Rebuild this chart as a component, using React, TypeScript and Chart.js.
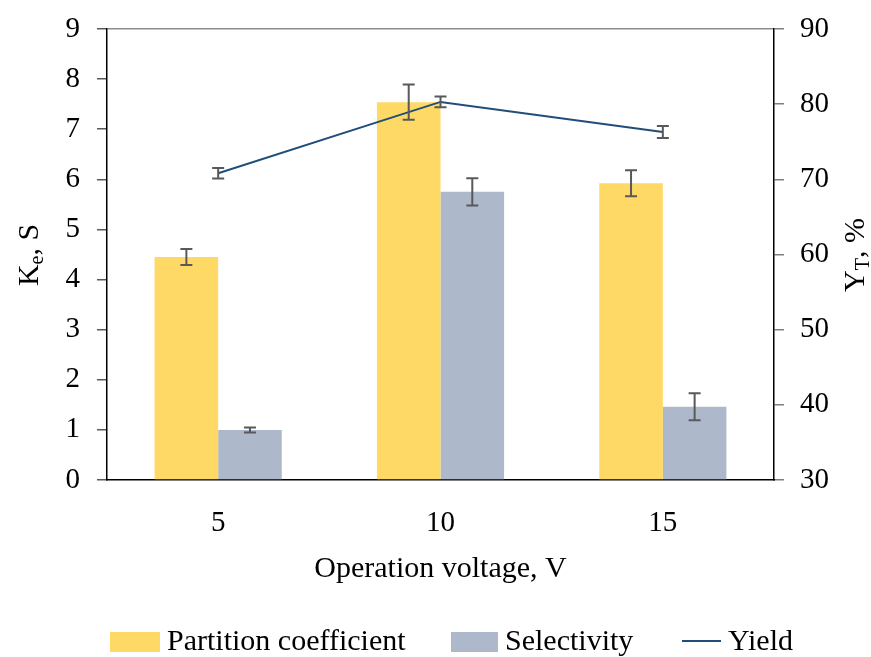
import React, { useEffect, useRef } from "react";
import { Chart, registerables } from "chart.js";

Chart.register(...registerables);

const categories = ["5", "10", "15"];
const partition = [4.45, 7.54, 5.92];
const partitionErr = [0.16, 0.35, 0.26];
const selectivity = [1.0, 5.75, 1.46];
const selectivityErr = [0.05, 0.27, 0.27];
const yieldVals = [70.8, 80.3, 76.3];
const yieldErr = [0.7, 0.72, 0.8];

const legendLabels = ["Partition coefficient", "Selectivity", "Yield"];

const FONT = "'Liberation Serif', 'Times New Roman', serif";
const YELLOW = "#FFD966";
const GREY = "#ADB9CA";
const NAVY = "#1F4E79";
const ERR = "#595959";

const errorBarPlugin = {
  id: "errorBars",
  afterDatasetsDraw(chart: any) {
    const ctx = chart.ctx;
    chart.data.datasets.forEach((ds: any, di: number) => {
      if (!ds.errors) return;
      const meta = chart.getDatasetMeta(di);
      const scale = chart.scales[ds.yAxisID];
      meta.data.forEach((el: any, i: number) => {
        const v = ds.data[i];
        const e = ds.errors[i];
        const x = el.x;
        const yTop = scale.getPixelForValue(v + e);
        const yBot = scale.getPixelForValue(v - e);
        ctx.save();
        ctx.strokeStyle = ERR;
        ctx.lineWidth = 2;
        ctx.beginPath();
        ctx.moveTo(x, yTop);
        ctx.lineTo(x, yBot);
        ctx.moveTo(x - 6, yTop);
        ctx.lineTo(x + 6, yTop);
        ctx.moveTo(x - 6, yBot);
        ctx.lineTo(x + 6, yBot);
        ctx.stroke();
        ctx.restore();
      });
    });
  },
};

function drawSubTitle(ctx: any, cx: number, cy: number, main: string, sub: string, rest: string) {
  ctx.save();
  ctx.translate(cx, cy);
  ctx.rotate(-Math.PI / 2);
  ctx.fillStyle = "#000";
  ctx.textBaseline = "middle";
  ctx.textAlign = "left";
  const big = `30px ${FONT}`;
  const small = `20px ${FONT}`;
  ctx.font = big;
  const w1 = ctx.measureText(main).width;
  const w3 = ctx.measureText(rest).width;
  ctx.font = small;
  const w2 = ctx.measureText(sub).width;
  let x = -(w1 + w2 + w3) / 2;
  ctx.font = big;
  ctx.fillText(main, x, 0);
  x += w1;
  ctx.font = small;
  ctx.fillText(sub, x, 8);
  x += w2;
  ctx.font = big;
  ctx.fillText(rest, x, 0);
  ctx.restore();
}

const titlesPlugin = {
  id: "titles",
  afterDraw(chart: any) {
    const ctx = chart.ctx;
    drawSubTitle(ctx, 30, 255, "K", "e", ", S");
    drawSubTitle(ctx, 856, 255, "Y", "T", ", %");
  },
};

const legendPlugin = {
  id: "customLegend",
  afterDraw(chart: any) {
    const ctx = chart.ctx;
    const y = 642;
    ctx.save();
    ctx.font = `30px ${FONT}`;
    ctx.fillStyle = "#000";
    ctx.textBaseline = "middle";
    ctx.textAlign = "left";
    ctx.fillStyle = YELLOW;
    ctx.fillRect(110, 632, 50, 20);
    ctx.fillStyle = "#000";
    ctx.fillText(legendLabels[0], 167, y);
    ctx.fillStyle = GREY;
    ctx.fillRect(451, 632, 47, 20);
    ctx.fillStyle = "#000";
    ctx.fillText(legendLabels[1], 505, y);
    ctx.strokeStyle = NAVY;
    ctx.lineWidth = 2;
    ctx.beginPath();
    ctx.moveTo(682, 641);
    ctx.lineTo(721, 641);
    ctx.stroke();
    ctx.fillText(legendLabels[2], 728, y);
    ctx.restore();
  },
};

export default function App() {
  const ref = useRef<HTMLCanvasElement | null>(null);
  useEffect(() => {
    if (!ref.current) return;
    const chart = new Chart(ref.current, {
      type: "bar",
      data: {
        labels: categories,
        datasets: [
          {
            type: "line",
            label: legendLabels[2],
            data: yieldVals,
            errors: yieldErr,
            yAxisID: "y1",
            borderColor: NAVY,
            borderWidth: 2,
            pointRadius: 0,
            tension: 0,
            order: 0,
          } as any,
          {
            type: "bar",
            label: legendLabels[0],
            data: partition,
            errors: partitionErr,
            yAxisID: "y",
            backgroundColor: YELLOW,
            borderWidth: 0,
            order: 1,
          } as any,
          {
            type: "bar",
            label: legendLabels[1],
            data: selectivity,
            errors: selectivityErr,
            yAxisID: "y",
            backgroundColor: GREY,
            borderWidth: 0,
            order: 1,
          } as any,
        ],
      },
      options: {
        animation: false,
        responsive: false,
        maintainAspectRatio: false,
        datasets: { bar: { categoryPercentage: 0.572, barPercentage: 1.0 } },
        layout: { padding: { top: 29, left: 0, right: 0, bottom: 40 } },
        plugins: {
          legend: { display: false },
          tooltip: { enabled: false },
        },
        scales: {
          x: {
            grid: { display: false },
            border: { display: true, color: "#000", width: 1.5 },
            ticks: { color: "#000", font: { family: FONT, size: 29 }, padding: 18 },
            title: {
              display: true,
              text: "Operation voltage, V",
              color: "#000",
              font: { family: FONT, size: 30 },
              padding: { top: 0, bottom: 30 },
            },
            afterFit: (s: any) => {
              s.height = 137;
              s.paddingLeft = 0;
              s.paddingRight = 0;
            },
          },
          y: {
            position: "left",
            min: 0,
            max: 9,
            ticks: { stepSize: 1, color: "#000", font: { family: FONT, size: 29 }, padding: 17 },
            grid: {
              drawOnChartArea: true,
              color: (c: any) => (c.tick && c.tick.value === 9 ? "#8c8c8c" : "rgba(0,0,0,0)"),
              tickColor: "#595959",
              tickLength: 10,
              lineWidth: 1.5,
            },
            border: { display: true, color: "#000", width: 1.5 },
            afterFit: (s: any) => {
              s.width = 107;
              s.paddingTop = 0;
              s.paddingBottom = 0;
            },
          },
          y1: {
            position: "right",
            min: 30,
            max: 90,
            ticks: { stepSize: 10, color: "#000", font: { family: FONT, size: 29 }, padding: 16 },
            grid: { drawOnChartArea: false, tickColor: "#7f7f7f", tickLength: 10, lineWidth: 1.5 },
            border: { display: true, color: "#000", width: 1.5 },
            afterFit: (s: any) => {
              s.width = 97;
              s.paddingTop = 0;
              s.paddingBottom = 0;
            },
          },
        },
      } as any,
      plugins: [errorBarPlugin, titlesPlugin, legendPlugin],
    });
    return () => chart.destroy();
  }, []);
  return (
    <div style={{ position: "fixed", left: 0, top: 0, width: 871, height: 657, background: "#fff" }}>
      <canvas ref={ref} width={871} height={657} style={{ width: 871, height: 657, display: "block" }} />
    </div>
  );
}
